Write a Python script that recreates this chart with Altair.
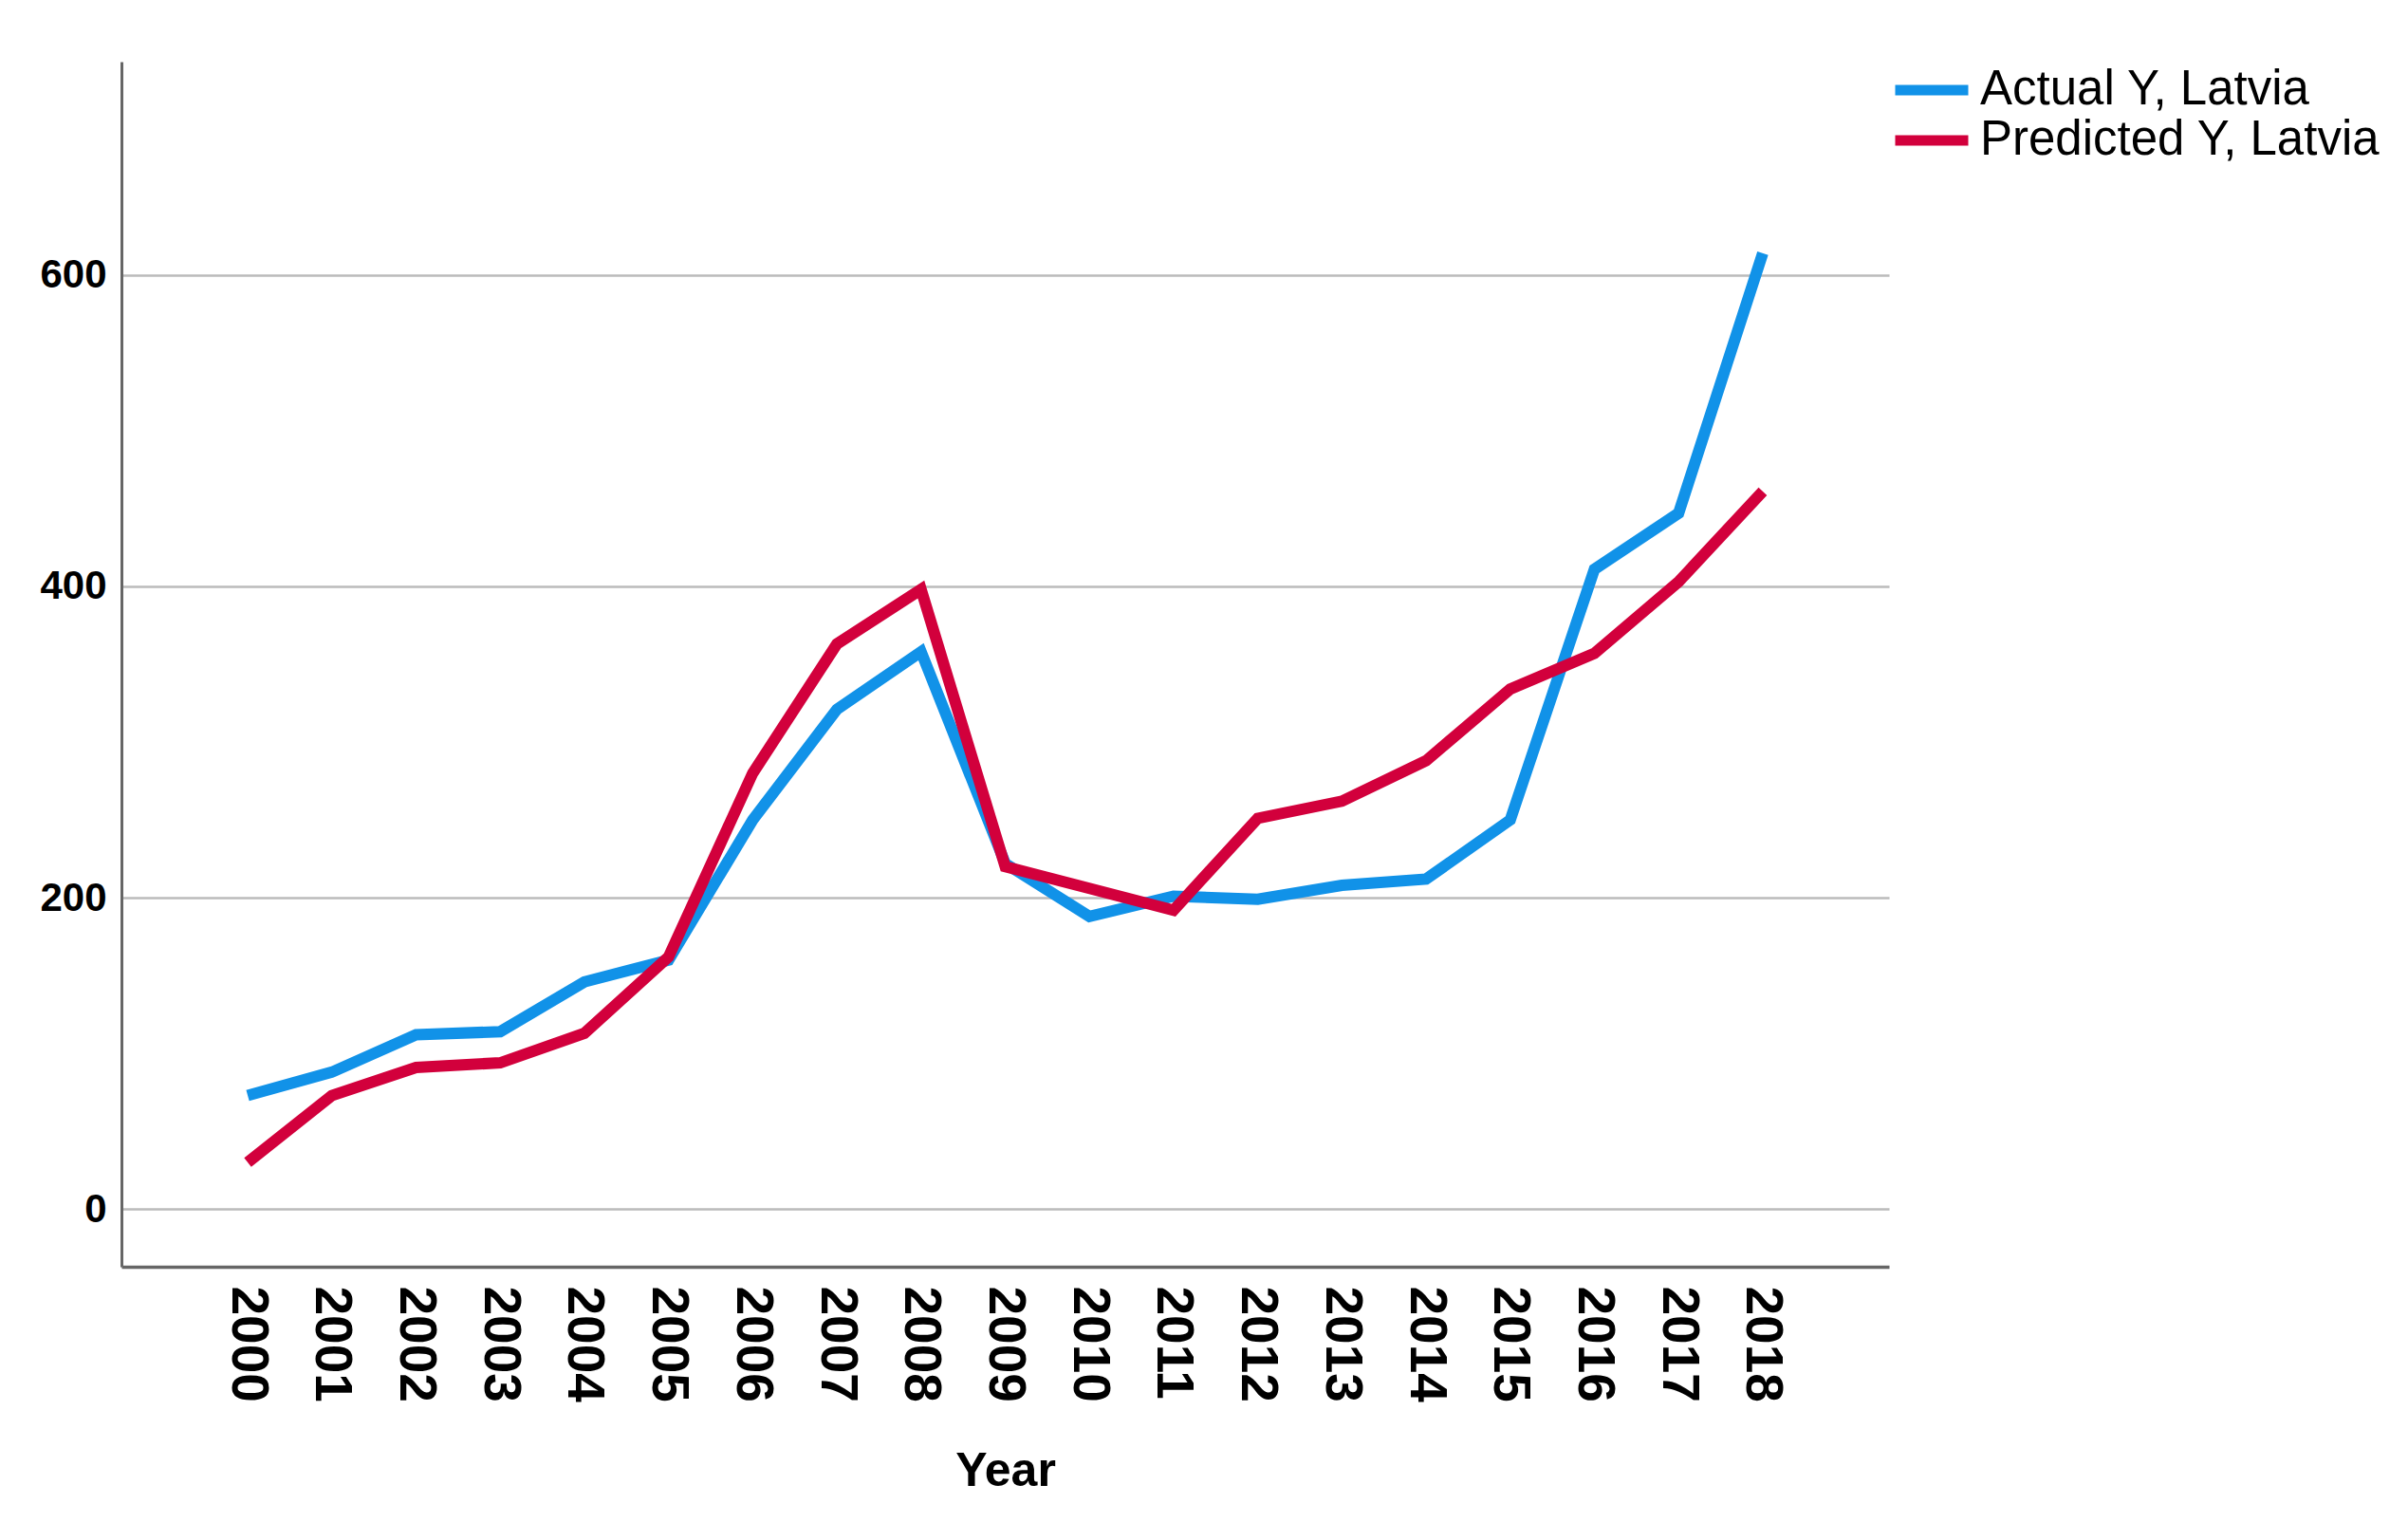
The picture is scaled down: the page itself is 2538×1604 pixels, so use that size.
import altair as alt
import pandas as pd

years = list(range(2000, 2019))
actual = [73, 88, 112, 114, 146, 160, 250, 321, 358, 222, 188, 201, 199, 208, 212, 250, 411, 447, 614]
predicted = [30, 73, 91, 94, 113, 162, 280, 363, 398, 220, 206, 192, 251, 262, 288, 334, 357, 403, 461]
series_names = ["Actual Y, Latvia", "Predicted Y, Latvia"]
series_colors = ["#1192e8", "#d2003c"]
y_ticks = [0, 200, 400, 600]

rows = []
for name, vals in zip(series_names, [actual, predicted]):
    for yr, v in zip(years, vals):
        rows.append({"Year": yr, "Value": v, "Series": name})
df = pd.DataFrame(rows)

FONT = "Liberation Sans"

chart = alt.Chart(df).mark_line(strokeWidth=12, strokeJoin="miter", strokeCap="butt").encode(
    x=alt.X(
        "Year:Q",
        scale=alt.Scale(domain=[years[0] - 1.5, years[-1] + 1.5], nice=False, zero=False),
        axis=alt.Axis(
            title="Year",
            values=years,
            format="d",
            labelAngle=90,
            labelFontSize=55,
            labelFontWeight="bold",
            labelFont=FONT,
            labelColor="black",
            labelPadding=20,
            labelFlush=False,
            labelOverlap=False,
            ticks=False,
            grid=False,
            domainColor="#666666",
            domainWidth=3.5,
            titleFont=FONT,
            titleFontSize=50,
            titleFontWeight="bold",
            titleColor="black",
            titlePadding=48,
        ),
    ),
    y=alt.Y(
        "Value:Q",
        scale=alt.Scale(domain=[-37, 737], nice=False, zero=False),
        axis=alt.Axis(
            title=None,
            values=y_ticks,
            grid=True,
            gridColor="#BBBBBB",
            gridWidth=2.5,
            ticks=False,
            domainColor="#666666",
            domainWidth=3,
            labelFontSize=42,
            labelFontWeight="bold",
            labelFont=FONT,
            labelColor="black",
            labelPadding=16,
        ),
    ),
    color=alt.Color(
        "Series:N",
        scale=alt.Scale(domain=series_names, range=series_colors),
        legend=alt.Legend(
            orient="none",
            legendX=1864,
            legendY=5,
            title=None,
            symbolType="stroke",
            symbolSize=5929,
            symbolStrokeWidth=11,
            clipHeight=50,
            rowPadding=2,
            labelOffset=7,
            labelFontSize=51,
            labelFont=FONT,
            labelColor="black",
            labelLimit=800,
            padding=0,
        ),
    ),
    detail="Series:N",
).properties(
    width=1863,
    height=1270,
    autosize=alt.AutoSizeParams(type="none"),
    padding={"left": 120, "top": 57, "right": 539, "bottom": 261},
    background="white",
).configure_view(stroke=None)

chart.save("out.html", embed_options={"renderer": "svg", "actions": False})
